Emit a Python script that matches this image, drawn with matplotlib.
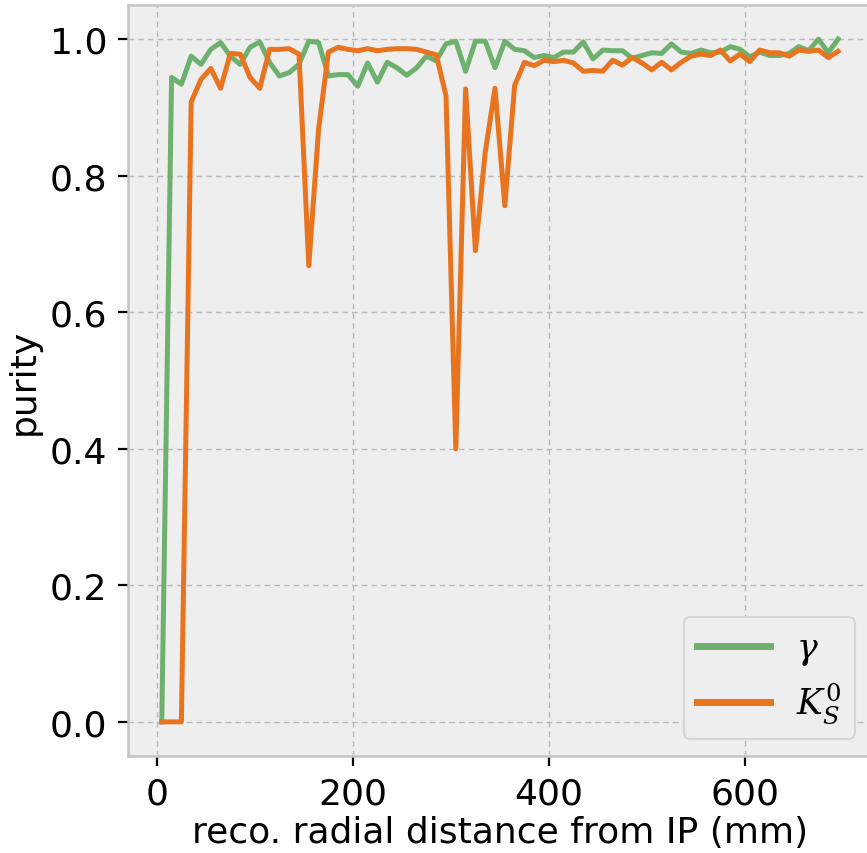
import matplotlib
matplotlib.use("Agg")
import matplotlib.pyplot as plt
import numpy as np

radius = [5 + 10 * k for k in range(70)]

purity_gamma = [
    0.0, 0.944, 0.934, 0.975, 0.963, 0.985, 0.995, 0.975, 0.963, 0.988,
    0.996, 0.966, 0.946, 0.951, 0.963, 0.997, 0.995, 0.946, 0.948, 0.948,
    0.931, 0.965, 0.937, 0.966, 0.958, 0.947, 0.958, 0.975, 0.968, 0.993,
    0.997, 0.953, 0.997, 0.997, 0.958, 0.997, 0.985, 0.983, 0.973, 0.976,
    0.973, 0.981, 0.981, 0.996, 0.971, 0.984, 0.983, 0.983, 0.972, 0.976,
    0.980, 0.979, 0.993, 0.981, 0.979, 0.984, 0.980, 0.981, 0.989, 0.985,
    0.974, 0.981, 0.976, 0.976, 0.979, 0.989, 0.983, 1.000, 0.980, 1.000,
]

purity_k0s = [
    0.0, 0.0, 0.0, 0.908, 0.941, 0.957, 0.928, 0.979, 0.978, 0.944,
    0.928, 0.985, 0.985, 0.986, 0.978, 0.668, 0.868, 0.981, 0.988, 0.985,
    0.983, 0.986, 0.983, 0.985, 0.986, 0.986, 0.985, 0.981, 0.977, 0.917,
    0.400, 0.927, 0.690, 0.834, 0.928, 0.756, 0.932, 0.966, 0.961, 0.969,
    0.967, 0.969, 0.965, 0.953, 0.954, 0.953, 0.969, 0.962, 0.973, 0.965,
    0.955, 0.966, 0.955, 0.966, 0.975, 0.978, 0.976, 0.984, 0.968, 0.978,
    0.967, 0.984, 0.980, 0.980, 0.975, 0.984, 0.982, 0.984, 0.973, 0.982,
]

series_labels = [r"$\gamma$", r"$K_S^0$"]

plt.rcParams["mathtext.fontset"] = "dejavuserif"

fig = plt.figure(figsize=(8.67, 8.54), dpi=100)
ax = fig.add_axes([0.1476, 0.1136, 0.858, 0.8794])
ax.set_facecolor("#eeeeee")

ax.plot(radius, purity_gamma, color="#6eb06e", lw=3.6, label=series_labels[0])
ax.plot(radius, purity_k0s, color="#e8741f", lw=3.6, label=series_labels[1])

ax.set_xlim(-29.5, 729.5)
ax.set_ylim(-0.05, 1.05)
ax.set_xticks([0, 200, 400, 600])
ax.set_yticks([0.0, 0.2, 0.4, 0.6, 0.8, 1.0])
ax.set_yticklabels(["0.0", "0.2", "0.4", "0.6", "0.8", "1.0"])

ax.grid(True, color="#b8b8b8", linestyle=(0, (4, 3)), linewidth=1.0)
ax.set_axisbelow(True)
for side, sp in ax.spines.items():
    sp.set_color("#c4c4c4")
    sp.set_linewidth(1.8)
ax.spines["right"].set_visible(False)

ax.tick_params(axis="both", labelsize=26, length=7, width=1.6, color="black", pad=8)
ax.set_xlabel("reco. radial distance from IP (mm)", fontsize=26, labelpad=3)
ax.set_ylabel("purity", fontsize=26, labelpad=6)

leg = ax.legend(loc="lower right", fontsize=25, frameon=True, fancybox=True,
                handlelength=2.1, borderpad=0.4, labelspacing=0.4,
                handletextpad=0.75, borderaxespad=0.48)
leg.get_frame().set_facecolor("#eeeeee")
leg.get_frame().set_edgecolor("#d6d6d6")
leg.get_frame().set_linewidth(1.5)
leg.get_frame().set_alpha(1.0)
for line in leg.get_lines():
    line.set_linewidth(5)

fig.savefig("out.png", dpi=100)
